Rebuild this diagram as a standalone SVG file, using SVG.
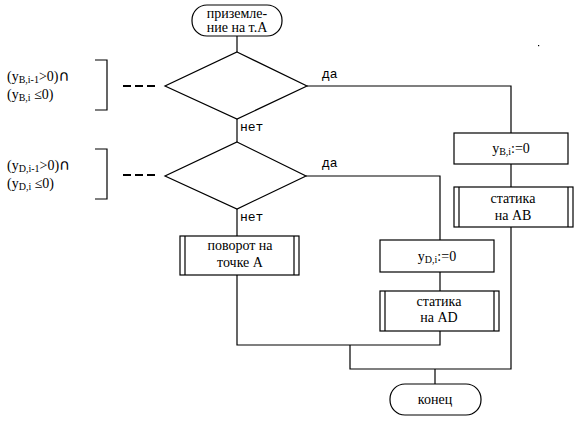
<svg xmlns="http://www.w3.org/2000/svg" width="581" height="421" viewBox="0 0 581 421">
<style>
.s{fill:none;stroke:#000;stroke-width:1.2}
.b{fill:#fff;stroke:#000;stroke-width:1.2}
.t{font-family:"Liberation Serif","DejaVu Serif","Times New Roman",serif;font-size:14px;fill:#000}
.c{text-anchor:middle}
.m{font-family:"Liberation Mono","DejaVu Sans Mono","Courier New",monospace;font-size:13px;fill:#000}
.sub{font-size:10px}
.cap{font-family:"DejaVu Sans",sans-serif;font-size:15px}
</style>
<rect width="581" height="421" fill="#fff"/>
<g id="connectors" class="s">
<path d="M237 36V52"/>
<path d="M237 119V142"/>
<path d="M237 209V236"/>
<path d="M307 86H511V133"/>
<path d="M511 164V187"/>
<path d="M511 227V369H350V345"/>
<path d="M306 176H440V240"/>
<path d="M440 272V291"/>
<path d="M440 331V345H237V275"/>
<path d="M435 369V384"/>
<path d="M123 86H155" stroke-dasharray="8,4" stroke-width="2"/>
<path d="M123 175H155" stroke-dasharray="8,4" stroke-width="2"/>
</g>
<g id="labels">
<text class="m" x="322" y="78">да</text>
<text class="m" x="240" y="131">нет</text>
<text class="m" x="322" y="167">да</text>
<text class="m" x="240" y="221">нет</text>
</g>
<g id="start">
<rect class="b" x="192" y="5" width="90" height="31" rx="15"/>
<text class="t c" x="237" y="18">приземле-</text>
<text class="t c" x="237" y="32">ние на т.А</text>
</g>
<g id="cond1">
<path class="b" d="M237 52L307 86L237 119L165 86Z"/>
</g>
<g id="note1">
<path class="s" d="M95 60H107V110H95"/>
<text class="t" x="7" y="81">(y<tspan class="sub" dy="2">B,i-1</tspan><tspan dy="-2">&gt;0)</tspan><tspan class="cap">∩</tspan></text>
<text class="t" x="7" y="99">(y<tspan class="sub" dy="2">B,i</tspan><tspan dy="-2"> ≤0)</tspan></text>
</g>
<g id="cond2">
<path class="b" d="M237 142L306 176L237 209L165 176Z"/>
</g>
<g id="note2">
<path class="s" d="M95 149H107V199H95"/>
<text class="t" x="7" y="170">(y<tspan class="sub" dy="2">D,i-1</tspan><tspan dy="-2">&gt;0)</tspan><tspan class="cap">∩</tspan></text>
<text class="t" x="7" y="188">(y<tspan class="sub" dy="2">D,i</tspan><tspan dy="-2"> ≤0)</tspan></text>
</g>
<g id="yB">
<rect class="b" x="454" y="133" width="114" height="31"/>
<text class="t c" x="511" y="153">y<tspan class="sub" dy="2">B,i</tspan><tspan dy="-2">:=0</tspan></text>
</g>
<g id="statAB">
<rect class="b" x="454" y="187" width="119" height="40"/>
<path class="s" d="M459 187V227M568 187V227"/>
<text class="t c" x="513" y="203">статика</text>
<text class="t c" x="513" y="220">на AB</text>
</g>
<g id="turn">
<rect class="b" x="180" y="236" width="119" height="39"/>
<path class="s" d="M185 236V275M294 236V275"/>
<text class="t c" x="240" y="250">поворот на</text>
<text class="t c" x="240" y="267">точке А</text>
</g>
<g id="yD">
<rect class="b" x="380" y="240" width="114" height="32"/>
<text class="t c" x="437" y="261">y<tspan class="sub" dy="2">D,i</tspan><tspan dy="-2">:=0</tspan></text>
</g>
<g id="statAD">
<rect class="b" x="380" y="291" width="119" height="40"/>
<path class="s" d="M385 291V331M494 291V331"/>
<text class="t c" x="439" y="306">статика</text>
<text class="t c" x="439" y="322">на AD</text>
</g>
<g id="end">
<rect class="b" x="390" y="384" width="91" height="31" rx="15"/>
<text class="t c" x="435" y="404">конец</text>
</g>
<rect x="538" y="45" width="1.2" height="1.2" fill="#000"/>
</svg>
